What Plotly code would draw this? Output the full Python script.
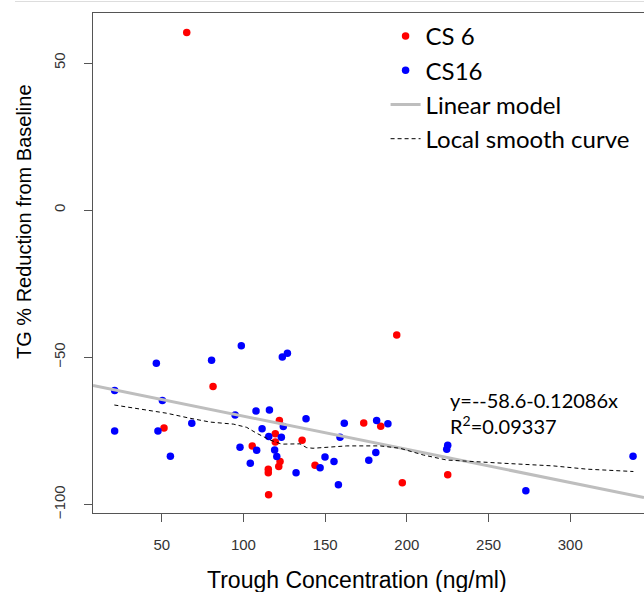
import plotly.graph_objects as go

# ---- data ----
cs6_x = [65.3, 81.4, 51.4, 105.4, 122.0, 119.5, 119.5, 122.4, 121.6, 115.2, 115.2, 115.4,
         135.9, 143.8, 193.8, 173.6, 184.0, 197.2, 225.0]
cs6_y = [60.4, -59.9, -74.0, -80.1, -71.5, -76.0, -78.8, -85.4, -87.1, -88.0, -89.2, -96.7,
         -78.2, -86.7, -42.4, -72.3, -73.4, -92.6, -89.9]

cs16_x = [21.2, 21.2, 46.7, 50.4, 47.7, 55.3, 68.4, 80.5, 98.7, 94.9, 97.9, 104.2, 107.7,
          108.1, 111.4, 115.9, 115.5, 119.1, 120.4, 123.2, 124.4, 123.8, 126.9, 132.2, 138.3,
          161.7, 181.5, 188.4, 159.1, 149.9, 155.4, 146.9, 176.7, 181.0, 158.1, 225.0, 224.4,
          272.8, 338.4]
cs16_y = [-61.3, -75.0, -52.0, -64.7, -75.0, -83.6, -72.4, -51.0, -46.1, -69.6, -80.6, -86.0,
          -68.2, -81.6, -74.3, -67.9, -76.9, -81.5, -83.7, -77.2, -73.5, -49.9, -48.6, -89.2,
          -70.9, -72.4, -71.5, -72.6, -77.2, -83.9, -85.4, -87.5, -85.0, -82.3, -93.3, -79.9,
          -81.2, -95.3, -83.6]

smooth_x = [21.0, 53.1, 67.3, 79.6, 93.8, 102.0, 108.1, 116.3, 123.4, 134.6, 138.7, 142.6,
            163.2, 183.6, 195.8, 210.1, 224.4, 244.8, 259.1, 289.7, 310.1, 338.6]
smooth_y = [-66.2, -69.0, -70.7, -72.0, -72.7, -73.8, -75.8, -78.1, -79.5, -79.4, -80.7, -80.9,
            -80.1, -80.1, -80.9, -83.2, -84.9, -85.4, -86.0, -86.9, -88.0, -88.8]

# linear model line as drawn (spans the plotting region)
x_range = [7.95, 345.1]
y_range = [-102.9, 67.0]
lm_intercept = -58.7
lm_slope = -0.1128
lm_x = x_range
lm_y = [lm_intercept + lm_slope * v for v in lm_x]

x_ticks = [50, 100, 150, 200, 250, 300]
y_ticks = [-100, -50, 0, 50]

eq_text = "y=--58.6-0.12086x"
r2_text = "R<sup>2</sup>=0.09337"

fig = go.Figure()
fig.add_trace(go.Scatter(x=cs6_x, y=cs6_y, mode="markers", name="CS 6",
                         marker=dict(color="#ff0000", size=7.5)))
fig.add_trace(go.Scatter(x=cs16_x, y=cs16_y, mode="markers", name="CS16",
                         marker=dict(color="#0000ff", size=7.5)))
fig.add_trace(go.Scatter(x=lm_x, y=lm_y, mode="lines", name="Linear model",
                         line=dict(color="#bebebe", width=3)))
fig.add_trace(go.Scatter(x=smooth_x, y=smooth_y, mode="lines", name="Local smooth curve",
                         line=dict(color="#000000", width=1, dash="4px,3px")))

axis_font = dict(family="Liberation Sans, Arial, sans-serif", size=15, color="#333333")

fig.update_layout(
    width=644, height=592,
    margin=dict(l=93, r=0, t=13, b=79),
    plot_bgcolor="white", paper_bgcolor="white",
    showlegend=True,
    legend=dict(x=0.531, y=0.998, xanchor="left", yanchor="top",
                font=dict(family="Lato, sans-serif", size=24, color="#000000"),
                bgcolor="rgba(0,0,0,0)", traceorder="normal", itemwidth=30,
                tracegroupgap=0),
    xaxis=dict(range=x_range, tickvals=x_ticks, showgrid=False, zeroline=False,
               showline=True, linecolor="#555555", linewidth=1, mirror=True,
               ticks="outside", ticklen=8, tickcolor="#555555", tickfont=axis_font,
               ticklabelstandoff=10),
    yaxis=dict(range=y_range, tickvals=y_ticks, showgrid=False, zeroline=False,
               showline=True, linecolor="#555555", linewidth=1, mirror=False,
               ticks="outside", ticklen=8, tickcolor="#555555", tickfont=axis_font,
               tickangle=-90, ticklabelstandoff=13),
    annotations=[
        dict(x=225.0, y=-64.5, xref="x", yref="y", text=eq_text, showarrow=False,
             xanchor="left", yanchor="middle",
             font=dict(family="Lato, sans-serif", size=20, color="#000000")),
        dict(x=225.0, y=-73.0, xref="x", yref="y", text=r2_text, showarrow=False,
             xanchor="left", yanchor="middle",
             font=dict(family="Lato, sans-serif", size=20, color="#000000")),
        dict(x=(356.7 - 93) / 551, y=(513 - 580) / 500, xref="paper", yref="paper",
             text="Trough Concentration (ng/ml)", showarrow=False,
             xanchor="center", yanchor="middle",
             font=dict(family="Liberation Sans, Arial, sans-serif", size=23, color="#000000")),
        dict(x=(24 - 93) / 551, y=(513 - 222) / 500, xref="paper", yref="paper",
             text="TG % Reduction from Baseline", showarrow=False, textangle=-90,
             xanchor="center", yanchor="middle",
             font=dict(family="Liberation Sans, Arial, sans-serif", size=20, color="#000000")),
    ],
    shapes=[dict(type="line", xref="paper", yref="paper",
                 x0=(15 - 93) / 551, x1=1, y0=1 + (13 - 1.5) / 500, y1=1 + (13 - 1.5) / 500,
                 line=dict(color="#dddddd", width=1))],
)

fig.write_html("out.html")
